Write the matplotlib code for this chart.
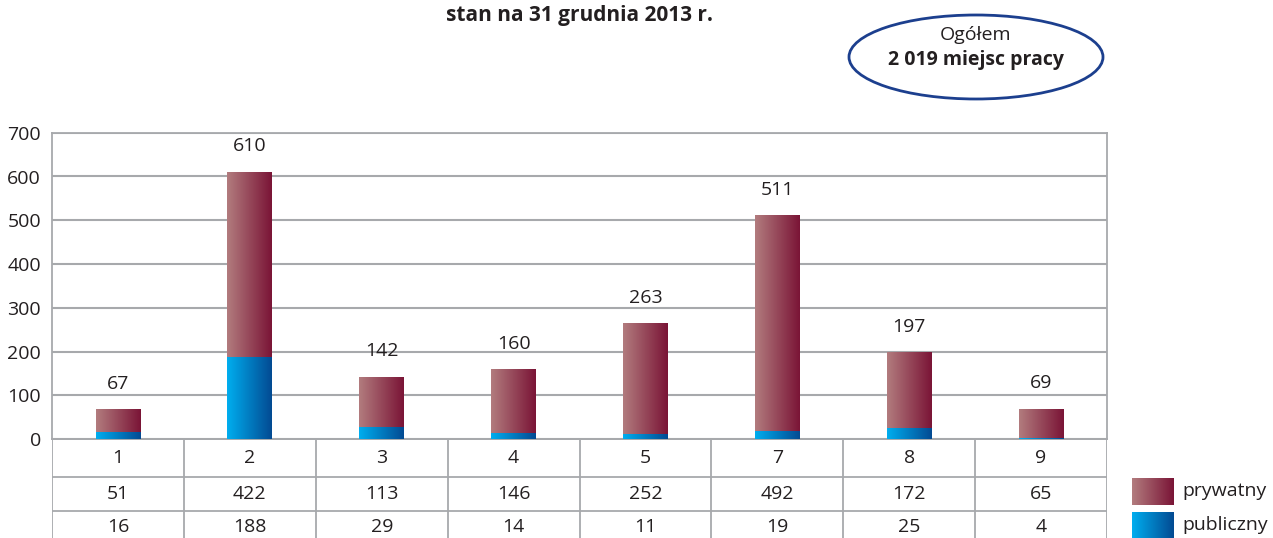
import numpy as np
import matplotlib
matplotlib.use("Agg")
import matplotlib.pyplot as plt
from matplotlib.colors import LinearSegmentedColormap
from matplotlib.patches import Ellipse

# --- data ---
categories = ["1", "2", "3", "4", "5", "7", "8", "9"]
prywatny = [51, 422, 113, 146, 252, 492, 172, 65]
publiczny = [16, 188, 29, 14, 11, 19, 25, 4]
totals = [a + b for a, b in zip(prywatny, publiczny)]
yticks = [0, 100, 200, 300, 400, 500, 600, 700]

title = "stan na 31 grudnia 2013 r."
box_top = "Ogółem"
box_bottom = "2 019 miejsc pracy"

# --- style ---
plt.rcParams["font.family"] = ["Open Sans", "DejaVu Sans"]
txt = "#231f20"
grid_c = "#a7a9ac"
fs = 14
cmap_priv = LinearSegmentedColormap.from_list("priv", ["#b27c7e", "#7a1436"])
cmap_pub = LinearSegmentedColormap.from_list("pub", ["#00aeef", "#034a92"])
grad = np.linspace(0, 1, 256).reshape(1, -1)

W, H = 1273, 538
fig = plt.figure(figsize=(W / 100, H / 100), dpi=100)


def px(x0, y0, x1, y1):
    # pixel box (top-left origin) -> figure fraction rect
    return [x0 / W, 1 - y1 / H, (x1 - x0) / W, (y1 - y0) / H]


ax = fig.add_axes(px(52, 132.7, 1107, 439.3))
x = np.arange(len(categories))
bw = 0.34
b_pub = ax.bar(x, publiczny, bw, color="none", zorder=3)
b_priv = ax.bar(x, prywatny, bw, bottom=publiczny, color="none", zorder=3)

for bars, cm in ((b_pub, cmap_pub), (b_priv, cmap_priv)):
    for r in bars:
        x0, y0 = r.get_x(), r.get_y()
        ax.imshow(grad, cmap=cm, aspect="auto", zorder=3,
                  extent=[x0, x0 + r.get_width(), y0, y0 + r.get_height()])

for xi, t in zip(x, totals):
    ax.annotate(str(t), (xi, t), xytext=(0, 12), textcoords="offset points",
                ha="center", va="bottom", fontsize=fs, color=txt)

ax.set_xlim(-0.5, len(categories) - 0.5)
ax.set_ylim(0, 700)
ax.set_yticks(yticks)
ax.set_yticklabels([str(v) for v in yticks], fontsize=fs, color=txt)
ax.tick_params(axis="y", length=0, pad=8)
ax.set_xticks([])
ax.yaxis.grid(True, color=grid_c, lw=1.5, zorder=1)
ax.set_axisbelow(True)
for s in ax.spines.values():
    s.set_color(grid_c)
    s.set_linewidth(1.3)

# --- data table below the chart ---
tab = fig.add_axes(px(52, 439.3, 1107, 547))
tab.set_xlim(-0.5, len(categories) - 0.5)
tab.set_ylim(3, 0)
tab.axis("off")
for xv in np.arange(-0.5, len(categories), 1.0):
    tab.axvline(xv, color=grid_c, lw=1.3)
for yv in [0, 1.05, 2.0]:
    tab.axhline(yv, color=grid_c, lw=1.3)
rows = [categories, [str(v) for v in prywatny], [str(v) for v in publiczny]]
row_y = [0.52, 1.52, 2.45]
for ry, row in zip(row_y, rows):
    for xi, s in zip(x, row):
        tab.text(xi, ry, s, ha="center", va="center", fontsize=fs, color=txt)

# --- legend ---
for (y0, y1), cm, lab in (((478, 505), cmap_priv, "prywatny"),
                          ((512, 538), cmap_pub, "publiczny")):
    sw = fig.add_axes(px(1132, y0, 1174, y1))
    sw.imshow(grad, cmap=cm, aspect="auto")
    sw.axis("off")
    fig.text(1182 / W, 1 - (y0 + y1) / 2 / H, lab, ha="left", va="center",
             fontsize=fs, color=txt)

# --- title and total box ---
fig.text(580 / W, 1 - 15 / H, title, ha="center", va="center",
         fontsize=15, fontweight="bold", color=txt)
fig.add_artist(Ellipse((976 / W, 1 - 57 / H), 254 / W, 84 / H,
                       transform=fig.transFigure, fill=False,
                       edgecolor="#1c3f8e", lw=2))
fig.text(976 / W, 1 - 35 / H, box_top, ha="center", va="center",
         fontsize=fs, color=txt)
fig.text(976 / W, 1 - 60 / H, box_bottom, ha="center", va="center",
         fontsize=fs, fontweight="bold", color=txt)

fig.savefig("out.png", dpi=100)
